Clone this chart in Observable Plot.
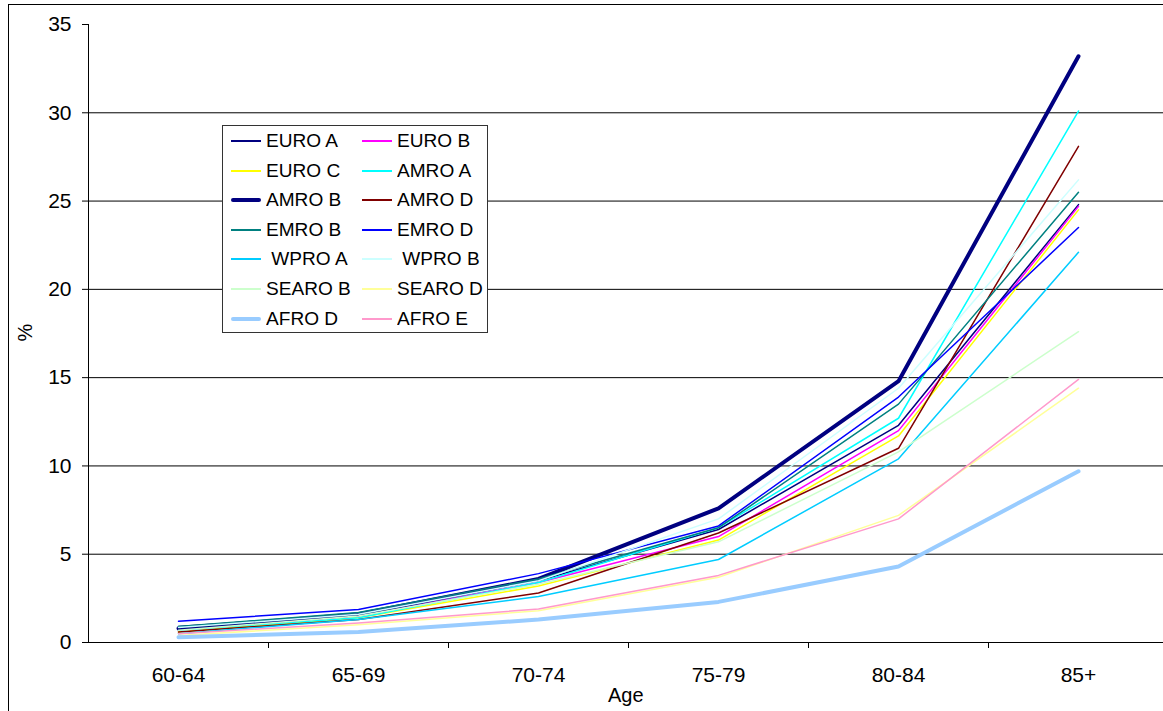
<!DOCTYPE html>
<html>
<head>
<meta charset="utf-8">
<script src="https://cdn.jsdelivr.net/npm/d3@7"></script>
<script src="https://cdn.jsdelivr.net/npm/@observablehq/plot@0.6"></script>
<style>
  html, body { margin: 0; padding: 0; background: #fff; overflow: hidden; }
  #wrap { position: relative; width: 1163px; height: 711px; overflow: hidden;
          font-family: "Liberation Sans", Arial, sans-serif; color: #000; }
  #frame { position: absolute; left: 8px; top: 4px; width: 1300px; height: 900px;
           border: 1px solid #000; box-sizing: border-box; pointer-events: none; }
  #chart { position: absolute; left: 0; top: 0; }
  #chart svg { max-width: none !important; }
  #legend { position: absolute; left: 222px; top: 125px; width: 266px; height: 208px;
            border: 1px solid #333; box-sizing: border-box; background: #fff; }
  .item { position: absolute; height: 20px; font-size: 18px; line-height: 20px; white-space: pre; }
  .swatch { position: absolute; width: 30px; }
  .name { position: absolute; left: 35px; top: 0; display: inline-block;
          transform: scaleX(1.06); transform-origin: 0 50%; }
  .axis-title { position: absolute; font-size: 20px; white-space: nowrap; }
</style>
</head>
<body>
<div id="wrap">
  <div id="chart"></div>
  <div id="legend"></div>
  <div class="axis-title" id="ytitle" style="left:17px; top:321px; transform: rotate(-90deg);">%</div>
  <div class="axis-title" id="xtitle" style="left:608px; top:684px;">Age</div>
  <div id="frame"></div>
</div>
<script>
// Age groups along the x axis
const ageGroups = ["60-64", "65-69", "70-74", "75-79", "80-84", "85+"];
const yTicks = [0, 5, 10, 15, 20, 25, 30, 35];

// Region names, in legend / drawing order
const regions = ["EURO A", "EURO B", "EURO C", "AMRO A", "AMRO B", "AMRO D", "EMRO B",
                 "EMRO D", " WPRO A", " WPRO B", "SEARO B", "SEARO D", "AFRO D", "AFRO E"];
const regionColors = ["#000080", "#FF00FF", "#FFFF00", "#00FFFF", "#000080", "#800000", "#008080",
                      "#0000FF", "#00CCFF", "#CCFFFF", "#CCFFCC", "#FFFF99", "#99CCFF", "#FF99CC"];
const regionWidths = [1.5, 1.5, 1.5, 1.5, 4, 1.5, 1.5, 1.5, 1.5, 1.5, 1.5, 1.5, 4, 1.5];

// Prevalence (%) per age group, one array per region
const euroA  = [0.9, 1.6, 3.5, 6.4, 12.3, 24.8];
const euroB  = [0.7, 1.5, 3.4, 6.0, 12.0, 24.7];
const euroC  = [0.6, 1.4, 3.2, 5.8, 11.7, 24.5];
const amroA  = [0.7, 1.4, 3.4, 6.5, 12.7, 30.1];
const amroB  = [0.8, 1.6, 3.6, 7.6, 14.8, 33.2];
const amroD  = [0.6, 1.3, 2.8, 6.2, 11.0, 28.1];
const emroB  = [0.9, 1.7, 3.6, 6.5, 13.5, 25.5];
const emroD  = [1.2, 1.87, 3.9, 6.6, 13.9, 23.5];
const wproA  = [0.5, 1.3, 2.6, 4.7, 10.4, 22.1];
const wproB  = [0.85, 1.6, 3.5, 7.0, 14.4, 26.2];
const searoB = [0.7, 1.5, 3.3, 5.7, 10.8, 17.6];
const searoD = [0.4, 1.0, 1.8, 3.7, 7.2, 14.4];
const afroD  = [0.3, 0.6, 1.3, 2.3, 4.3, 9.7];
const afroE  = [0.5, 1.1, 1.9, 3.8, 7.0, 14.9];

const seriesValues = [euroA, euroB, euroC, amroA, amroB, amroD, emroB,
                      emroD, wproA, wproB, searoB, searoD, afroD, afroE];

// Each age group sits in the middle of its unit-wide slot on the x scale
const rowsFor = (values) => values.map((v, i) => ({pos: i + 0.5, value: v}));

const lineMarks = seriesValues.map((values, k) =>
  Plot.line(rowsFor(values), {
    x: "pos", y: "value",
    stroke: regionColors[k],
    strokeWidth: regionWidths[k],
    strokeLinejoin: "round",
    strokeLinecap: "round"
  })
);

const chart = Plot.plot({
  width: 1168,
  height: 711,
  marginLeft: 88,
  marginRight: 0,
  marginTop: 24,
  marginBottom: 69,
  x: {type: "linear", domain: [0, ageGroups.length]},
  y: {domain: [0, 35]},
  style: {
    fontFamily: "'Liberation Sans', Arial, sans-serif",
    fontSize: "21px",
    color: "#000",
    background: "transparent",
    overflow: "visible"
  },
  marks: [
    Plot.gridY(yTicks.filter(t => t > 0 && t < 35), {stroke: "#000", strokeOpacity: 1, strokeWidth: 1}),
    Plot.axisY({ticks: yTicks, tickSize: 6, tickPadding: 11, label: null, stroke: "#000"}),
    Plot.axisX({ticks: d3.range(1, ageGroups.length), tickSize: 6, tickFormat: () => "", label: null, stroke: "#000"}),
    Plot.axisX({ticks: ageGroups.map((g, i) => i + 0.5), tickSize: 0, tickPadding: 25,
                tickFormat: (t) => ageGroups[Math.floor(t)], label: null}),
    Plot.ruleX([0], {y1: 0, y2: 35, stroke: "#000"}),
    Plot.ruleY([0], {stroke: "#000"}),
    ...lineMarks
  ]
});
document.getElementById("chart").appendChild(chart);

// Legend: two columns, seven rows
const legend = document.getElementById("legend");
regions.forEach((name, k) => {
  const col = k % 2, row = Math.floor(k / 2);
  const item = document.createElement("div");
  item.className = "item";
  item.style.left = (col === 0 ? 8 : 139) + "px";
  item.style.top = Math.round(5 + row * 29.6) + "px";
  const sw = document.createElement("div");
  sw.className = "swatch";
  const h = regionWidths[k] > 2 ? 4 : 2;
  sw.style.height = h + "px";
  sw.style.top = (10 - h / 2) + "px";
  sw.style.background = regionColors[k];
  if (h > 2) sw.style.borderRadius = "2px";
  const label = document.createElement("span");
  label.className = "name";
  label.textContent = name;
  item.appendChild(sw);
  item.appendChild(label);
  legend.appendChild(item);
});
</script>
</body>
</html>
